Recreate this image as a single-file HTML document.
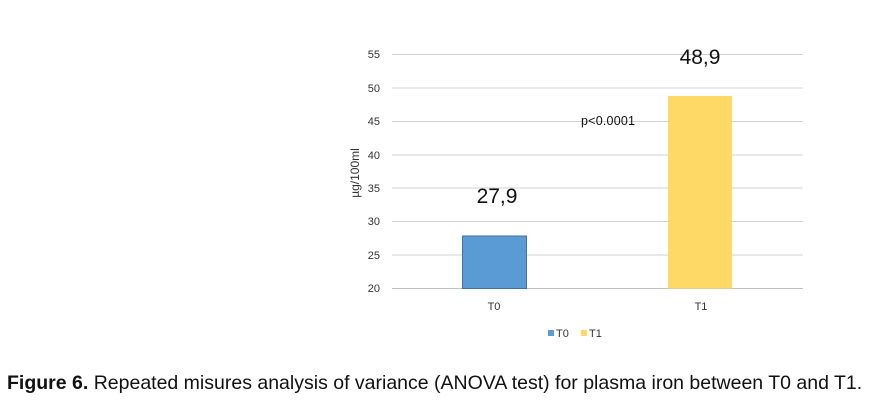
<!DOCTYPE html>
<html><head><style>
body{margin:0;background:#fff;width:877px;height:408px;overflow:hidden;position:relative;font-family:"Liberation Sans",sans-serif}
.a{position:absolute;white-space:nowrap}
</style></head><body>
<svg width="877" height="408" style="position:absolute;left:0;top:0" font-family="Liberation Sans, sans-serif">
<g stroke="#d0d0d0" stroke-width="1">
<line x1="392" x2="803" y1="54.5" y2="54.5"/>
<line x1="392" x2="803" y1="88" y2="88"/>
<line x1="392" x2="803" y1="121.5" y2="121.5"/>
<line x1="392" x2="803" y1="155" y2="155"/>
<line x1="392" x2="803" y1="188" y2="188"/>
<line x1="392" x2="803" y1="221.5" y2="221.5"/>
<line x1="392" x2="803" y1="255" y2="255"/>
</g>
<line x1="392" x2="803" y1="288.5" y2="288.5" stroke="#c0c0c0"/>
<g font-size="11" fill="#333" text-anchor="end">
<text x="380" y="58">55</text><text x="380" y="92">50</text><text x="380" y="125">45</text>
<text x="380" y="159">40</text><text x="380" y="192">35</text><text x="380" y="225">30</text>
<text x="380" y="259">25</text><text x="380" y="292">20</text>
</g>
<text transform="translate(359,173) rotate(-90)" font-size="12" text-anchor="middle" fill="#333">µg/100ml</text>
<rect x="462.5" y="236" width="64" height="52.5" fill="#5b9bd5" stroke="#41719c"/>
<rect x="668" y="96" width="64" height="192.5" fill="#ffd966"/>
<text x="497" y="203" font-size="21" text-anchor="middle" fill="#111">27,9</text>
<text x="700" y="64" font-size="21" text-anchor="middle" fill="#111">48,9</text>
<text x="581" y="125" font-size="12.5" fill="#111" textLength="54">p&lt;0.0001</text>
<text x="494" y="310" font-size="11" text-anchor="middle" fill="#333">T0</text>
<text x="701" y="310" font-size="11" text-anchor="middle" fill="#333">T1</text>
<rect x="548" y="330" width="6" height="6" fill="#5b9bd5"/>
<text x="556" y="337" font-size="11" fill="#333">T0</text>
<rect x="581" y="330" width="6" height="6" fill="#ffd966"/>
<text x="589" y="337" font-size="11" fill="#333">T1</text>
</svg>
<div class="a" style="left:7px;top:372px;font-size:19.5px;color:#111"><b>Figure 6.</b> Repeated misures analysis of variance (ANOVA test) for plasma iron between T0 and T1.</div>
</body></html>
